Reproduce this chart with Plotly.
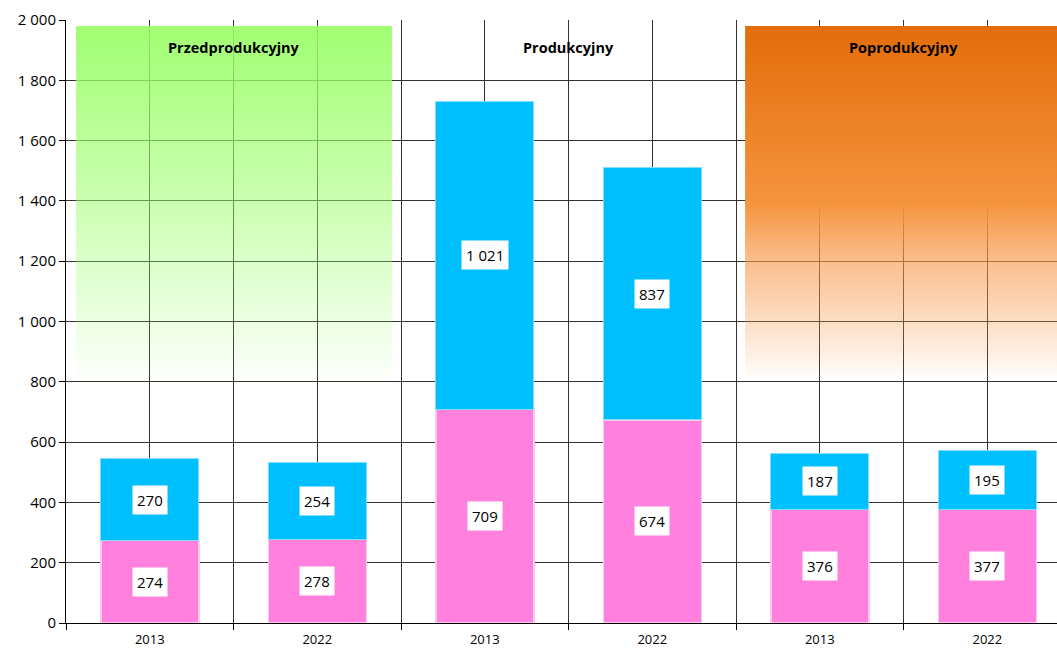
import plotly.graph_objects as go

years = ["2013", "2022", "2013", "2022", "2013", "2022"]
bottom_vals = [274, 278, 709, 674, 376, 377]
top_vals = [270, 254, 1021, 837, 187, 195]
phases = ["Przedprodukcyjny", "Produkcyjny", "Poprodukcyjny"]
phase_centers = [0.5, 2.5, 4.5]

PINK = "#FF80DD"
CYAN = "#00BFFF"
xs = list(range(len(years)))

fig = go.Figure()

# gradient background panels (decoration)
def panel(x0, x1, y0, y1, scale):
    fig.add_trace(go.Scatter(
        x=[x0, x1, x1, x0, x0], y=[y0, y0, y1, y1, y0],
        mode="lines", line=dict(width=0), fill="toself",
        fillgradient=dict(type="vertical", start=y0, stop=y1, colorscale=scale),
        hoverinfo="skip", showlegend=False))

panel(-0.44, 1.446, 800, 1980, [
    [0.0, "rgba(153,255,102,0.02)"],
    [0.5, "rgba(153,255,102,0.50)"],
    [1.0, "rgba(153,255,102,0.92)"],
])
panel(3.554, 5.5, 800, 1980, [
    [0.0, "rgba(247,150,70,0.0)"],
    [0.15, "rgba(247,150,70,0.28)"],
    [0.34, "rgba(247,150,70,0.62)"],
    [0.5, "rgba(245,148,62,1.0)"],
    [1.0, "rgba(227,108,10,1.0)"],
])

fig.add_trace(go.Bar(x=xs, y=bottom_vals, marker=dict(color=PINK, line=dict(color="#FFC8F0", width=1.5)),
                     width=0.585, showlegend=False, hoverinfo="y"))
fig.add_trace(go.Bar(x=xs, y=top_vals, marker=dict(color=CYAN, line=dict(color="#80DFFF", width=1)),
                     width=0.585, showlegend=False, hoverinfo="y"))

def fmt(v):
    return f"{v:,}".replace(",", " ")

for i in xs:
    b, t = bottom_vals[i], top_vals[i]
    for val, mid in ((b, b / 2), (t, b + t / 2)):
        fig.add_annotation(x=i, y=mid, text=fmt(val), showarrow=False,
                           bgcolor="white", borderpad=4,
                           font=dict(family="Open Sans", size=15, color="black"))

for name, cx in zip(phases, phase_centers):
    fig.add_annotation(x=cx, y=1910, text=f"<b>{name}</b>", showarrow=False,
                       font=dict(family="Open Sans", size=14.5, color="black"))

fig.update_layout(
    barmode="stack",
    width=1057, height=648,
    margin=dict(l=66, r=0, t=20, b=25),
    paper_bgcolor="white", plot_bgcolor="white",
    separators=", ",
    font=dict(family="Open Sans", color="black"),
)
fig.update_xaxes(
    range=[-0.5, 5.416], tickvals=xs, ticktext=years, ticks="",
    showgrid=True, gridcolor="#333333", gridwidth=1,
    showline=True, linecolor="black", linewidth=1,
    tickfont=dict(size=13), zeroline=False, automargin=False,
    ticklabelstandoff=4,
    minor=dict(tick0=0.5, dtick=1, showgrid=True, gridcolor="#333333", gridwidth=1,
               ticks="outside", ticklen=6, tickcolor="black"),
)
fig.update_yaxes(
    range=[0, 2000], tickvals=list(range(0, 2001, 200)), tickformat=",d",
    showgrid=True, gridcolor="#333333", gridwidth=1,
    showline=True, linecolor="black", linewidth=1,
    ticks="outside", ticklen=6, tickcolor="black",
    tickfont=dict(size=15), zeroline=False, automargin=False,
)

fig.write_html("out.html", config={"displayModeBar": False},
               post_script="document.body.style.margin='0';document.body.style.overflow='hidden';")
